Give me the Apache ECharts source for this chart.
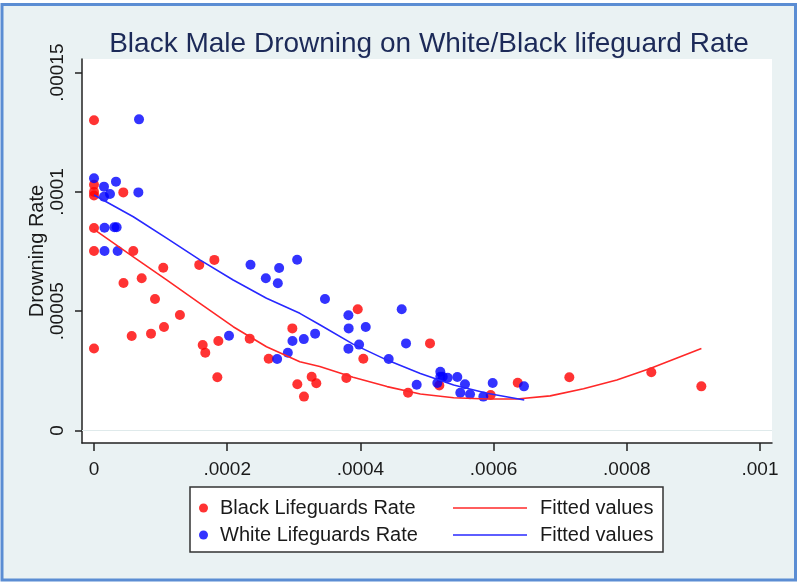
<!DOCTYPE html>
<html>
<head>
<meta charset="utf-8">
<script src="https://cdn.jsdelivr.net/npm/echarts@6/dist/echarts.min.js"></script>
<style>
html,body{margin:0;padding:0;background:#fff;}
#chart{width:800px;height:584px;}
</style>
</head>
<body>
<div id="chart"></div>
<script>
const titleText = 'Black Male Drowning on White/Black lifeguard Rate';
const xTicks = [0, 0.0002, 0.0004, 0.0006, 0.0008, 0.001];
const xTickLabels = ['0', '.0002', '.0004', '.0006', '.0008', '.001'];
const yTicks = [0, 0.00005, 0.0001, 0.00015];
const yTickLabels = ['0', '.00005', '.0001', '.00015'];

const blackX = [0, 0, 0, 0, 0.000044, 0, 0, 0.000059, 0.0000443, 0.000104, 0.0000716, 0.0000916, 0.000129, 0.000158, 0.0001807,
  0, 0.0000566, 0.0000856, 0.0001051, 0.0001632, 0.0001671, 0.0001867, 0.0001852, 0.0002338, 0.0002623, 0.0002978, 0.0003053,
  0.0003153, 0.0003268, 0.0003338, 0.0003789, 0.000396, 0.0004044, 0.0004715, 0.0005045, 0.0005185, 0.0005956, 0.0006362,
  0.0007137, 0.0008368, 0.0009119];
const blackY = [0.00013, 0.000103, 0.0001, 0.0000985, 0.0000998, 0.0000849, 0.0000752, 0.0000752, 0.0000618, 0.0000682, 0.0000638, 0.0000551, 0.0000484, 0.0000694, 0.0000715,
  0.0000344, 0.0000396, 0.0000406, 0.0000434, 0.0000358, 0.0000326, 0.0000375, 0.0000223, 0.0000385, 0.0000301, 0.0000428, 0.0000194,
  0.0000142, 0.0000225, 0.0000198, 0.000022, 0.0000508, 0.0000301, 0.0000158, 0.0000365, 0.0000189, 0.0000149, 0.00002,
  0.0000223, 0.0000244, 0.0000185];

const whiteX = [0.0000676, 0, 0.000033, 0.000015, 0.000024, 0.000015, 0.0000666, 0.0000158, 0.0000305, 0.000034, 0.0000158, 0.0000355,
  0.000235, 0.000258, 0.000278, 0.000276, 0.000305, 0.0003468, 0.000382, 0.0003824, 0.000408, 0.000462, 0.0004685, 0.0002027,
  0.000298, 0.000315, 0.000332, 0.000291, 0.000275, 0.000382, 0.000398, 0.0004425, 0.0004845, 0.00052, 0.00052, 0.0005236,
  0.000531, 0.0005155, 0.0005455, 0.000557, 0.00055, 0.0005646, 0.0005846, 0.0005986, 0.0006456];
const whiteY = [0.0001304, 0.0001057, 0.0001043, 0.0001022, 0.0000991, 0.000098, 0.0000998, 0.000085, 0.0000852, 0.0000852, 0.0000752, 0.0000752,
  0.0000695, 0.0000638, 0.0000681, 0.0000617, 0.0000716, 0.0000551, 0.0000483, 0.0000428, 0.0000434, 0.0000508, 0.0000365, 0.0000397,
  0.0000375, 0.0000383, 0.0000406, 0.0000326, 0.00003, 0.0000343, 0.000036, 0.00003, 0.0000192, 0.0000246, 0.0000225, 0.0000225,
  0.0000221, 0.0000199, 0.0000224, 0.0000194, 0.0000158, 0.0000152, 0.0000142, 0.0000199, 0.0000185];

const fitBlackX = [0, 0.000059, 0.000109, 0.000159, 0.000209, 0.000259, 0.000309, 0.000339, 0.000389, 0.00044, 0.00049, 0.00054, 0.00059, 0.000635, 0.000685, 0.000735, 0.000785, 0.000835, 0.000912];
const fitBlackY = [0.0000843, 0.0000728, 0.0000631, 0.0000533, 0.0000435, 0.0000351, 0.0000288, 0.0000268, 0.0000223, 0.0000184, 0.0000153, 0.0000137, 0.0000132, 0.0000132, 0.0000145, 0.0000175, 0.0000212, 0.000026, 0.0000344];

const fitWhiteX = [0, 0.000059, 0.000109, 0.000159, 0.000209, 0.000259, 0.000309, 0.000339, 0.000389, 0.00044, 0.00049, 0.00054, 0.00059, 0.000646];
const fitWhiteY = [0.0000987, 0.0000896, 0.0000806, 0.0000715, 0.0000631, 0.0000554, 0.0000491, 0.0000443, 0.0000362, 0.0000295, 0.0000239, 0.0000191, 0.0000156, 0.0000128];

const seriesNames = ['Black Lifeguards Rate', 'White Lifeguards Rate', 'Fitted values (Black)', 'Fitted values (White)'];

function pairs(xs, ys) { return xs.map((x, i) => [x, ys[i]]); }

const FONT = '"Liberation Sans", Arial, sans-serif';
const chart = echarts.init(document.getElementById('chart'), null, {renderer: 'canvas'});

chart.setOption({
  backgroundColor: '#ffffff',
  animation: false,
  graphic: [
    {type: 'rect', z: -100, silent: true,
     shape: {x: 2, y: 4.5, width: 793.5, height: 575.5},
     style: {fill: '#eaf2f3', stroke: '#5b8dd3', lineWidth: 3}},
    {type: 'rect', z: -50, silent: true,
     shape: {x: 190, y: 487, width: 473, height: 65},
     style: {fill: '#ffffff', stroke: '#333333', lineWidth: 1.5}}
  ],
  title: {
    text: titleText,
    left: 424, top: 25, textAlign: 'center',
    textStyle: {fontFamily: FONT, fontSize: 28, fontWeight: 'normal', color: '#1c2a58'}
  },
  grid: {
    left: 82, right: 28, top: 59, bottom: 141,
    show: true, backgroundColor: '#ffffff', borderWidth: 0
  },
  legend: [
    {
      data: [seriesNames[0], seriesNames[1]],
      orient: 'vertical', left: 194, top: 493,
      itemWidth: 9, itemHeight: 9, itemGap: 7, icon: 'circle',
      textStyle: {fontFamily: FONT, fontSize: 20, color: '#1a1a1a', lineHeight: 20, padding: [0, 0, 0, 7]}
    },
    {
      data: [{name: seriesNames[2], icon: 'rect'}, {name: seriesNames[3], icon: 'rect'}],
      orient: 'vertical', left: 448, top: 493,
      itemWidth: 74, itemHeight: 1.6, itemGap: 7,
      formatter: () => 'Fitted values',
      textStyle: {fontFamily: FONT, fontSize: 20, color: '#1a1a1a', lineHeight: 20, padding: [0, 0, 0, 8]}
    }
  ],
  xAxis: {
    type: 'value',
    min: -0.000018018, max: 0.001018,
    axisLine: {show: true, onZero: false, lineStyle: {color: '#222', width: 1.5}},
    axisTick: {show: true, length: 8, customValues: xTicks, lineStyle: {color: '#222', width: 1.5}},
    axisLabel: {
      customValues: xTicks, margin: 17,
      fontFamily: FONT, fontSize: 19, color: '#1a1a1a',
      formatter: v => { const i = xTicks.findIndex(t => Math.abs(t - v) < 1e-9); return i >= 0 ? xTickLabels[i] : ''; }
    },
    splitLine: {show: false}
  },
  yAxis: {
    type: 'value',
    min: -0.00000524, max: 0.0001557,
    name: 'Drowning Rate', nameLocation: 'middle', nameGap: 35, nameRotate: 90,
    nameMoveOverlap: false,
    nameTextStyle: {fontFamily: FONT, fontSize: 20, color: '#1a1a1a'},
    axisLine: {show: true, onZero: false, lineStyle: {color: '#222', width: 1.5}},
    axisTick: {show: true, length: 7, customValues: yTicks, lineStyle: {color: '#222', width: 1.5}},
    axisLabel: {
      customValues: yTicks, rotate: 90, margin: 15,
      fontFamily: FONT, fontSize: 19, color: '#1a1a1a',
      formatter: v => { const i = yTicks.findIndex(t => Math.abs(t - v) < 1e-12); return i >= 0 ? yTickLabels[i] : ''; }
    },
    splitLine: {show: false}
  },
  series: [
    {
      name: 'grid', type: 'line', data: [], z: 1, silent: true,
      markLine: {
        silent: true, symbol: 'none', animation: false,
        label: {show: false},
        lineStyle: {color: '#dfeaeb', width: 1.2, type: 'solid'},
        data: yTicks.map(v => ({yAxis: v}))
      }
    },
    {
      name: seriesNames[0], type: 'scatter', symbol: 'circle', symbolSize: 10,
      itemStyle: {color: '#ff0000'}, data: pairs(blackX, blackY), z: 3
    },
    {
      name: seriesNames[1], type: 'scatter', symbol: 'circle', symbolSize: 10,
      itemStyle: {color: '#0000ff'}, data: pairs(whiteX, whiteY), z: 3
    },
    {
      name: seriesNames[2], type: 'line', symbol: 'none', showSymbol: false, smooth: false,
      lineStyle: {color: '#ff2828', width: 1.6}, itemStyle: {color: '#ff2828'},
      data: pairs(fitBlackX, fitBlackY), z: 4
    },
    {
      name: seriesNames[3], type: 'line', symbol: 'none', showSymbol: false, smooth: false,
      lineStyle: {color: '#2828ff', width: 1.6}, itemStyle: {color: '#2828ff'},
      data: pairs(fitWhiteX, fitWhiteY), z: 4
    }
  ]
});
</script>
</body>
</html>
